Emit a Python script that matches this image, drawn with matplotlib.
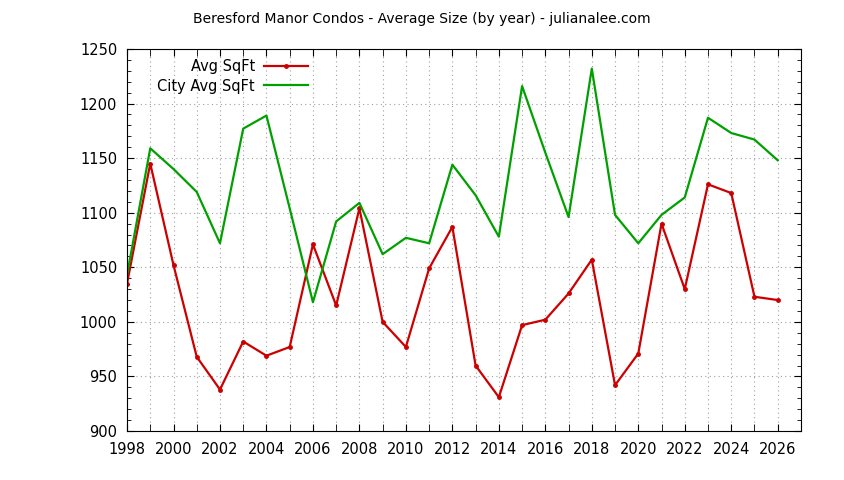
import matplotlib.pyplot as plt
from matplotlib.ticker import MultipleLocator

years = list(range(1998, 2027))
avg_sqft = [1035, 1145, 1052, 968, 938, 982, 969, 977, 1071, 1015,
            1104, 1000, 977, 1049, 1087, 960, 931, 997, 1002, 1026,
            1057, 942, 971, 1090, 1030, 1126, 1118, 1023, 1020]
city_avg_sqft = [1043, 1159, 1140, 1119, 1072, 1177, 1189, 1104, 1018, 1092,
                 1109, 1062, 1077, 1072, 1144, 1116, 1078, 1216, 1155, 1096,
                 1232, 1098, 1072, 1098, 1114, 1187, 1173, 1167, 1148]

plt.rcParams['font.family'] = ['DejaVu Sans']

fig = plt.figure(figsize=(8.44, 4.8), dpi=100)
ax = fig.add_axes([0.1505, 0.102, 0.7985, 0.796])

ax.plot(years, avg_sqft, color='#cc0000', lw=1.6, marker='o', ms=2.5,
        label='Avg SqFt')
ax.plot(years, city_avg_sqft, color='#00a000', lw=1.6, label='City Avg SqFt')

ax.set_xlim(1998, 2027)
ax.set_ylim(900, 1250)
ax.xaxis.set_major_locator(MultipleLocator(2))
ax.xaxis.set_minor_locator(MultipleLocator(1))
ax.yaxis.set_major_locator(MultipleLocator(50))
ax.yaxis.set_minor_locator(MultipleLocator(10))
ax.tick_params(which='both', direction='in', top=True, right=True,
               labelsize=10.5, colors='black')
ax.tick_params(which='major', length=5)
ax.tick_params(which='minor', length=3)
ax.tick_params(axis='x', which='minor', length=5)
ax.tick_params(axis='x', which='major', pad=8)
ax.tick_params(axis='y', which='major', pad=7)

ax.grid(True, which='major', axis='y', color='#a0a0a0', ls=(0, (1, 3)), lw=0.8)
ax.grid(True, which='both', axis='x', color='#a0a0a0', ls=(0, (1, 3)), lw=0.8)
ax.set_axisbelow(True)

fig.text(0.5, 0.96, 'Beresford Manor Condos - Average Size (by year) - julianalee.com',
         ha='center', va='center', fontsize=10)

ax.legend(loc='upper left', bbox_to_anchor=(0.03, 1.0), frameon=False,
          markerfirst=False, fontsize=10.5, handlelength=3.0,
          handletextpad=0.6, labelspacing=0.3, borderaxespad=0.3)
for t in ax.get_legend().get_texts():
    t.set_ha('right')
ax.get_legend()._legend_box.align = 'right'

fig.savefig('out.png', dpi=100)
